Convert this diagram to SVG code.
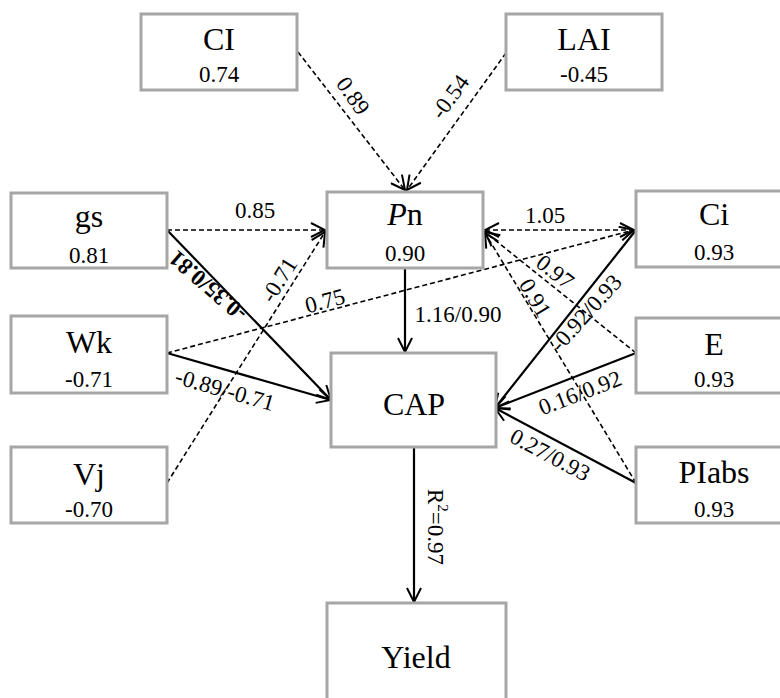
<svg xmlns="http://www.w3.org/2000/svg" width="780" height="698" viewBox="0 0 780 698" font-family="Liberation Serif, DejaVu Serif, Noto Serif, serif">
<style>
.box{fill:#fff;stroke:#a6a6a6;stroke-width:3}
.nm{font-size:32px;text-anchor:middle}
.val{font-size:23px;text-anchor:middle}
.lb{font-size:23px;text-anchor:middle;dominant-baseline:central}
.sol{stroke:#000;stroke-width:2.2;fill:none;marker-end:url(#ah)}
.dsh{stroke:#000;stroke-width:1.6;fill:none;stroke-dasharray:5 3;marker-end:url(#ah)}
</style>
<defs>
<marker id="ah" viewBox="0 0 16 16" refX="15" refY="8" markerWidth="16" markerHeight="16" markerUnits="userSpaceOnUse" orient="auto-start-reverse">
<path d="M1,1 L15,8 L1,15" fill="none" stroke="#000" stroke-width="2"/>
</marker>
</defs>
<g id="connectors">
<line class="dsh" x1="298" y1="52" x2="405" y2="190"/>
<line class="dsh" x1="506" y1="53" x2="407" y2="190"/>
<line class="dsh" x1="167" y1="230" x2="325" y2="230"/>
<line class="dsh" x1="167" y1="483" x2="325" y2="232"/>
<line class="dsh" x1="167" y1="353" x2="634" y2="230"/>
<line class="dsh" x1="485" y1="230" x2="634" y2="230" style="marker-start:url(#ah)"/>
<line class="dsh" x1="636" y1="353" x2="485" y2="232"/>
<line class="dsh" x1="636" y1="483" x2="485" y2="233"/>
<line class="sol" x1="167" y1="230" x2="331" y2="400"/>
<line class="sol" x1="167" y1="353" x2="331" y2="400"/>
<line class="sol" x1="405" y1="268" x2="405" y2="352"/>
<line class="sol" x1="636" y1="230" x2="495" y2="408"/>
<line class="sol" x1="636" y1="353" x2="495" y2="408"/>
<line class="sol" x1="636" y1="483" x2="495" y2="408"/>
<line class="sol" x1="414" y1="448" x2="414" y2="602"/>
<text class="lb" font-family="Liberation Serif" transform="translate(353,96) rotate(55)">0.89</text>
<text class="lb" font-family="Liberation Serif" transform="translate(450,97) rotate(-54)">-0.54</text>
<text class="lb" font-family="Liberation Serif" x="255" y="210">0.85</text>
<text class="lb" font-family="Liberation Serif" x="545" y="215">1.05</text>
<text class="lb" font-family="Liberation Serif" transform="translate(279,280) rotate(-58)">-0.71</text>
<text class="lb" font-family="Liberation Serif" transform="translate(325,301) rotate(-15)">0.75</text>
<text class="lb" font-family="Liberation Serif" font-weight="bold" transform="translate(208,286) rotate(-139)">-0.35/0.81</text>
<text class="lb" font-family="Liberation Serif" transform="translate(225,390) rotate(16)">-0.89/-0.71</text>
<text class="lb" font-family="Liberation Serif" x="458" y="314">1.16/0.90</text>
<text class="lb" font-family="Liberation Serif" transform="translate(555,272) rotate(38)">0.97</text>
<text class="lb" font-family="Liberation Serif" transform="translate(535,298) rotate(59)">0.91</text>
<text class="lb" font-family="Liberation Serif" transform="translate(586,313) rotate(-48)">-0.92/0.93</text>
<text class="lb" font-family="Liberation Serif" transform="translate(580,393) rotate(-21)">0.16/0.92</text>
<text class="lb" font-family="Liberation Serif" transform="translate(550,455) rotate(28)">0.27/0.93</text>
<text class="lb" font-family="Liberation Serif" transform="translate(435,527) rotate(90)">R<tspan font-size="15" baseline-shift="super">2</tspan>=0.97</text>
</g>
<g id="CI" font-family="Liberation Serif"><rect class="box" x="141" y="14" width="156" height="76"/><text class="nm" x="219" y="50">CI</text><text class="val" x="219" y="82">0.74</text></g>
<g id="LAI" font-family="Liberation Serif"><rect class="box" x="506" y="14" width="156" height="76"/><text class="nm" x="584" y="50">LAI</text><text class="val" x="584" y="82">-0.45</text></g>
<g id="gs" font-family="Liberation Serif"><rect class="box" x="11" y="193" width="156" height="75"/><text class="nm" x="89" y="227">gs</text><text class="val" x="89" y="263">0.81</text></g>
<g id="Pn" font-family="Liberation Serif"><rect class="box" x="327" y="192" width="156" height="76"/><text class="nm" x="405" y="225"><tspan font-style="italic">P</tspan>n</text><text class="val" x="405" y="261">0.90</text></g>
<g id="Ci" font-family="Liberation Serif"><rect class="box" x="636" y="191" width="156" height="76"/><text class="nm" x="714" y="225">Ci</text><text class="val" x="714" y="260">0.93</text></g>
<g id="Wk" font-family="Liberation Serif"><rect class="box" x="11" y="316" width="156" height="77"/><text class="nm" x="89" y="353">Wk</text><text class="val" x="89" y="387">-0.71</text></g>
<g id="E" font-family="Liberation Serif"><rect class="box" x="636" y="318" width="156" height="75"/><text class="nm" x="714" y="355">E</text><text class="val" x="714" y="387">0.93</text></g>
<g id="CAP" font-family="Liberation Serif"><rect class="box" x="331" y="353" width="165" height="94"/><text class="nm" x="414" y="415" font-size="40">CAP</text></g>
<g id="Vj" font-family="Liberation Serif"><rect class="box" x="11" y="447" width="156" height="76"/><text class="nm" x="89" y="485">Vj</text><text class="val" x="89" y="517">-0.70</text></g>
<g id="PIabs" font-family="Liberation Serif"><rect class="box" x="636" y="447" width="156" height="76"/><text class="nm" x="714" y="483">PIabs</text><text class="val" x="714" y="517">0.93</text></g>
<g id="Yield" font-family="Liberation Serif"><rect class="box" x="327" y="603" width="179" height="110"/><text class="nm" x="416" y="668" font-size="38">Yield</text></g>
</svg>
